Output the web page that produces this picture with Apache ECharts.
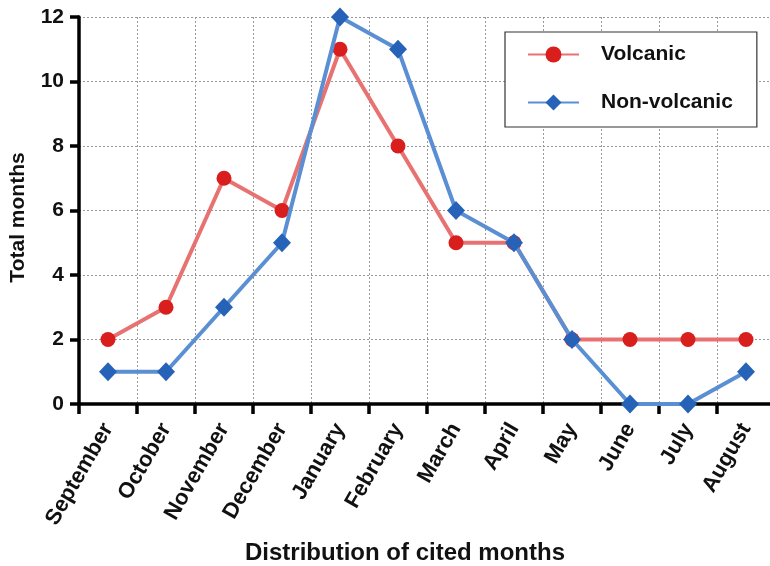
<!DOCTYPE html>
<html>
<head>
<meta charset="utf-8">
<script src="https://cdn.jsdelivr.net/npm/echarts@6/dist/echarts.min.js"></script>
<style>
  html, body { margin: 0; padding: 0; background: #fff; }
  #chart { width: 770px; height: 566px; }
</style>
</head>
<body>
<div id="chart"></div>
<script>
// Months of the year, starting in September
const months = ['September', 'October', 'November', 'December', 'January', 'February',
                'March', 'April', 'May', 'June', 'July', 'August'];
// Number of cited months per group
const volcanic = [2, 3, 7, 6, 11, 8, 5, 5, 2, 2, 2, 2];
const nonVolcanic = [1, 1, 3, 5, 12, 11, 6, 5, 2, 0, 0, 1];
const yTicks = [0, 2, 4, 6, 8, 10, 12];

const font = 'Liberation Sans, Arial, sans-serif';
const chart = echarts.init(document.getElementById('chart'), null, { renderer: 'canvas' });

chart.setOption({
  backgroundColor: '#ffffff',
  animation: false,
  textStyle: { fontFamily: font },
  grid: { left: 79, right: -5, top: 17, bottom: 162, containLabel: false, outerBoundsMode: 'none' },
  legend: {
    orient: 'vertical',
    left: 505,
    top: 32,
    padding: [12, 24, 14, 22],
    itemGap: 27,
    itemWidth: 51,
    itemHeight: 20,
    borderColor: '#333',
    borderWidth: 1.2,
    backgroundColor: '#fff',
    textStyle: { fontFamily: font, fontSize: 21, fontWeight: 'bold', color: '#111', padding: [0, 0, 0, 17] },
    data: ['Volcanic', 'Non-volcanic']
  },
  xAxis: {
    type: 'category',
    data: months,
    boundaryGap: true,
    name: 'Distribution of cited months',
    nameLocation: 'middle',
    nameGap: 137,
    nameTextStyle: { fontFamily: font, fontSize: 24, fontWeight: 'bold', color: '#111', padding: [0, 44, 0, 0] },
    axisLine: { lineStyle: { color: '#000', width: 3.5 } },
    axisTick: { show: true, length: 10, lineStyle: { color: '#000', width: 3.5 } },
    axisLabel: {
      rotate: 60,
      fontFamily: font, fontSize: 22, fontWeight: 'bold', color: '#111',
      margin: 21, interval: 0
    },
    splitLine: { show: true, lineStyle: { color: '#999', type: [2, 2], width: 1 } }
  },
  yAxis: {
    type: 'value',
    min: yTicks[0],
    max: yTicks[yTicks.length - 1],
    interval: 2,
    name: 'Total months',
    nameLocation: 'middle',
    nameGap: 50,
    nameTextStyle: { fontFamily: font, fontSize: 21, fontWeight: 'bold', color: '#111', padding: [0, 14, 0, 0] },
    axisLine: { show: true, lineStyle: { color: '#000', width: 3.5 } },
    axisTick: { show: true, length: 9, lineStyle: { color: '#000', width: 3.5 } },
    axisLabel: { fontFamily: font, fontSize: 21, fontWeight: 'bold', color: '#111', margin: 15 },
    splitLine: { show: true, lineStyle: { color: '#999', type: [2, 2], width: 1 } }
  },
  series: [
    {
      name: 'Volcanic',
      type: 'line',
      data: volcanic,
      clip: false,
      symbol: 'circle',
      symbolSize: 15,
      lineStyle: { color: '#e87272', width: 4 },
      itemStyle: { color: '#d91e1e', borderWidth: 0 },
      z: 3
    },
    {
      name: 'Non-volcanic',
      type: 'line',
      data: nonVolcanic,
      clip: false,
      symbol: 'diamond',
      symbolSize: [18, 19],
      lineStyle: { color: '#5b8fd4', width: 4 },
      itemStyle: { color: '#2663b8', borderWidth: 0 },
      z: 4
    }
  ]
});
</script>
</body>
</html>
